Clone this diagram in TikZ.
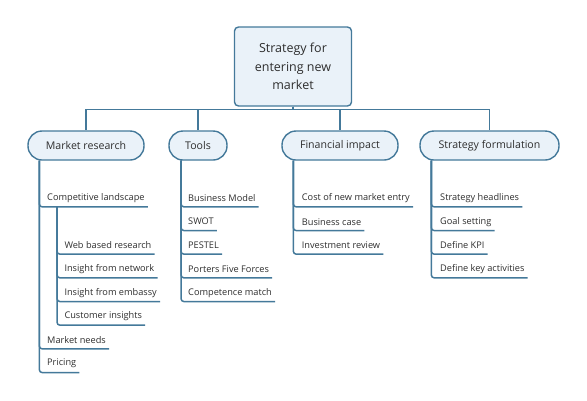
\documentclass[tikz,border=0pt]{standalone}
\usepackage{fontspec}
\setmainfont{Open Sans}
\usetikzlibrary{calc}

\definecolor{linec}{HTML}{44799A}
\definecolor{fillc}{HTML}{EAF2F9}
\definecolor{textc}{HTML}{2E2E2E}

\tikzset{
  rootbox/.style={draw=linec, fill=fillc, line width=1.4pt, rounded corners=4pt,
    minimum width=117pt, minimum height=79pt, align=center, text=textc,
    font=\fontsize{12.5}{18.5}\selectfont},
  catbox/.style={draw=linec, fill=fillc, line width=1.4pt, rounded corners=14pt,
    minimum height=29pt, text=textc, font=\fontsize{10.6}{12}\selectfont},
  leaf/.style={anchor=west, inner xsep=0pt, inner ysep=0pt, minimum height=17.4pt,
    text=textc, font=\fontsize{9.2}{11}\selectfont},
  bus/.style={draw=linec, line width=1.4pt},
  branch/.style={draw=linec, line width=1.5pt, rounded corners=3pt}
}

\begin{document}
\begin{tikzpicture}[x=1pt, y=-1pt]
            \useasboundingbox (0,0) rectangle (587,400);

            % root and categories
            \node[rootbox] (root) at (293, 66.5) {Strategy for\\entering new\\market};
            \node[catbox, minimum width=116pt] (mr) at (86, 145.5) {Market research};
            \node[catbox, minimum width=58pt] (tools) at (198, 145.5) {Tools};
            \node[catbox, minimum width=116pt] (fin) at (340, 145.5) {Financial impact};
            \node[catbox, minimum width=139pt] (sf) at (489.5, 145.5) {Strategy formulation};

            \draw[bus] (root.south) -- ++(0,3) -| (mr.north);
            \draw[bus] (root.south) -- ++(0,3) -| (tools.north);
            \draw[bus] (root.south) -- ++(0,3) -| (fin.north);
            \draw[bus] (root.south) -- ++(0,3) -| (sf.north);

            % market research
            \node[leaf] (mr1) at (47, 198) {Competitive landscape};
            \node[leaf] (mr1a) at (64.3, 245.3) {Web based research};
            \node[leaf] (mr1b) at (64.3, 269) {Insight from network};
            \node[leaf] (mr1c) at (64.3, 292.7) {Insight from embassy};
            \node[leaf] (mr1d) at (64.3, 316.3) {Customer insights};
            \node[leaf] (mr2) at (47, 340) {Market needs};
            \node[leaf] (mr3) at (47, 363.7) {Pricing};

            \draw[branch] ($(mr.south west)+(12,0)$) |- ($(mr1.south east)+(3,0)$);
            \draw[branch] ($(mr.south west)+(12,0)$) |- ($(mr2.south east)+(3,0)$);
            \draw[branch] ($(mr.south west)+(12,0)$) |- ($(mr3.south east)+(3,0)$);
            \draw[branch] ($(mr1.south west)+(10,0)$) |- ($(mr1a.south east)+(3,0)$);
            \draw[branch] ($(mr1.south west)+(10,0)$) |- ($(mr1b.south east)+(3,0)$);
            \draw[branch] ($(mr1.south west)+(10,0)$) |- ($(mr1c.south east)+(3,0)$);
            \draw[branch] ($(mr1.south west)+(10,0)$) |- ($(mr1d.south east)+(3,0)$);

            % tools
            \node[leaf] (t1) at (188, 198) {Business Model};
            \node[leaf] (t2) at (188, 221.7) {SWOT};
            \node[leaf] (t3) at (188, 245.3) {PESTEL};
            \node[leaf] (t4) at (188, 269) {Porters Five Forces};
            \node[leaf] (t5) at (188, 292.7) {Competence match};

            \draw[branch] ($(tools.south west)+(12.7,0)$) |- ($(t1.south east)+(3,0)$);
            \draw[branch] ($(tools.south west)+(12.7,0)$) |- ($(t2.south east)+(3,0)$);
            \draw[branch] ($(tools.south west)+(12.7,0)$) |- ($(t3.south east)+(3,0)$);
            \draw[branch] ($(tools.south west)+(12.7,0)$) |- ($(t4.south east)+(3,0)$);
            \draw[branch] ($(tools.south west)+(12.7,0)$) |- ($(t5.south east)+(3,0)$);

            % financial impact
            \node[leaf] (f1) at (301.7, 198) {Cost of new market entry};
            \node[leaf] (f2) at (301.7, 221.7) {Business case};
            \node[leaf] (f3) at (301.7, 245.3) {Investment review};

            \draw[branch] ($(fin.south west)+(12,0)$) |- ($(f1.south east)+(3,0)$);
            \draw[branch] ($(fin.south west)+(12,0)$) |- ($(f2.south east)+(3,0)$);
            \draw[branch] ($(fin.south west)+(12,0)$) |- ($(f3.south east)+(3,0)$);

            % strategy formulation
            \node[leaf] (s1) at (440, 198) {Strategy headlines};
            \node[leaf] (s2) at (440, 221.7) {Goal setting};
            \node[leaf] (s3) at (440, 245.3) {Define KPI};
            \node[leaf] (s4) at (440, 269) {Define key activities};

            \draw[branch] ($(sf.south west)+(12,0)$) |- ($(s1.south east)+(3,0)$);
            \draw[branch] ($(sf.south west)+(12,0)$) |- ($(s2.south east)+(3,0)$);
            \draw[branch] ($(sf.south west)+(12,0)$) |- ($(s3.south east)+(3,0)$);
            \draw[branch] ($(sf.south west)+(12,0)$) |- ($(s4.south east)+(3,0)$);

            \end{tikzpicture}
\end{document}
